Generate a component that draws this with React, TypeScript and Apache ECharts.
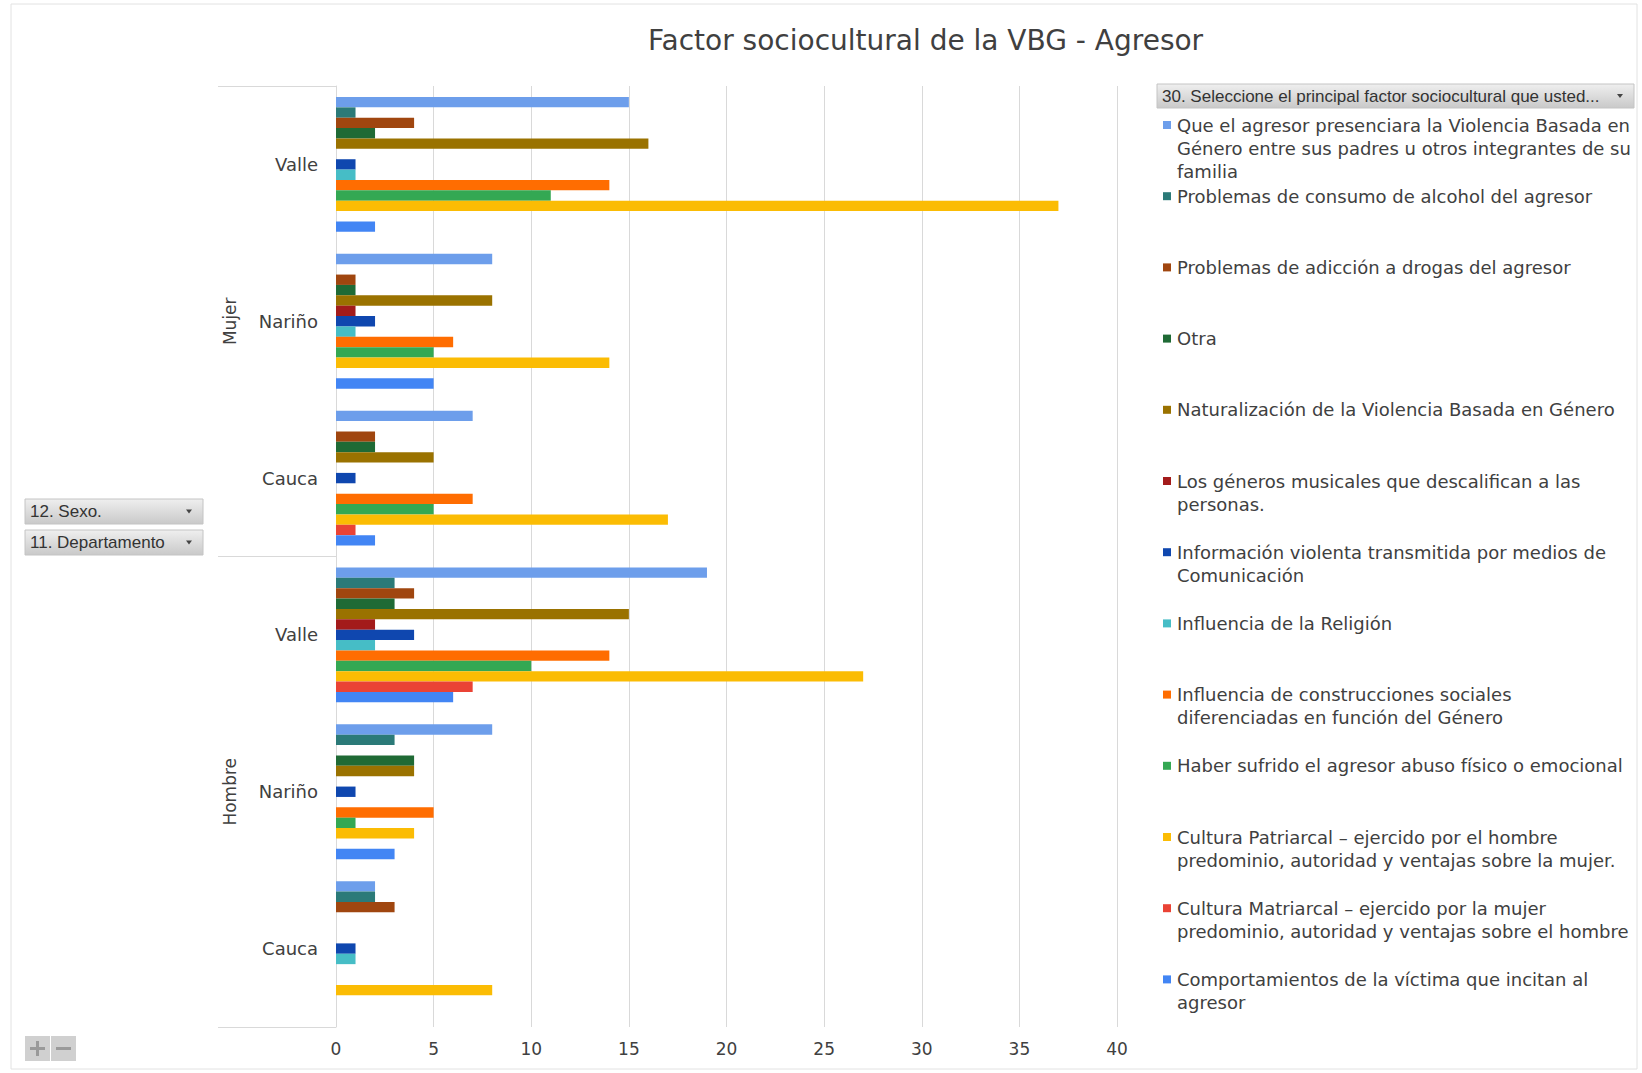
import React, { useEffect, useRef } from 'react';
import * as echarts from 'echarts';

// ---------- DATA ----------
const sexes = ['Mujer', 'Hombre'];
const departments = ['Valle', 'Nariño', 'Cauca'];

const seriesNames = [
  'Que el agresor presenciara la Violencia Basada en Género entre sus padres u otros integrantes de su familia',
  'Problemas de consumo de alcohol del agresor',
  'Problemas de adicción a drogas del agresor',
  'Otra',
  'Naturalización de la Violencia Basada en Género',
  'Los géneros musicales que descalifican a las personas.',
  'Información violenta transmitida por medios de Comunicación',
  'Influencia de la Religión',
  'Influencia de construcciones sociales diferenciadas en función del Género',
  'Haber sufrido el agresor abuso físico o emocional',
  'Cultura Patriarcal – ejercido por el hombre predominio, autoridad y ventajas sobre la mujer.',
  'Cultura Matriarcal – ejercido por la mujer predominio, autoridad y ventajas sobre el hombre',
  'Comportamientos de la víctima que incitan al agresor',
];

const legendLabels = [
  'Que el agresor presenciara la Violencia Basada en\nGénero entre sus padres u otros integrantes de su\nfamilia',
  'Problemas de consumo de alcohol del agresor',
  'Problemas de adicción a drogas del agresor',
  'Otra',
  'Naturalización de la Violencia Basada en Género',
  'Los géneros musicales que descalifican a las\npersonas.',
  'Información violenta transmitida por medios de\nComunicación',
  'Influencia de la Religión',
  'Influencia de construcciones sociales\ndiferenciadas en función del Género',
  'Haber sufrido el agresor abuso físico o emocional',
  'Cultura Patriarcal – ejercido por el hombre\npredominio, autoridad y ventajas sobre la mujer.',
  'Cultura Matriarcal – ejercido por la mujer\npredominio, autoridad y ventajas sobre el hombre',
  'Comportamientos de la víctima que incitan al\nagresor',
];

const seriesColors = [
  '#6d9eeb', '#2b7a78', '#a0460f', '#1f6a35', '#9a7200', '#a31b1b', '#0f47af',
  '#46bdc6', '#ff6d01', '#34a853', '#fbbc04', '#ea4335', '#4285f4',
];

// order: Mujer-Valle, Mujer-Nariño, Mujer-Cauca, Hombre-Valle, Hombre-Nariño, Hombre-Cauca
const valPresenciar = [15, 8, 7, 19, 8, 2];
const valAlcohol = [1, 0, 0, 3, 3, 2];
const valDrogas = [4, 1, 2, 4, 0, 3];
const valOtra = [2, 1, 2, 3, 4, 0];
const valNaturalizacion = [16, 8, 5, 15, 4, 0];
const valMusicales = [0, 1, 0, 2, 0, 0];
const valInformacion = [1, 2, 1, 4, 1, 1];
const valReligion = [1, 1, 0, 2, 0, 1];
const valConstrucciones = [14, 6, 7, 14, 5, 0];
const valAbuso = [11, 5, 5, 10, 1, 0];
const valPatriarcal = [37, 14, 17, 27, 4, 8];
const valMatriarcal = [0, 0, 1, 7, 0, 0];
const valComportamientos = [2, 5, 2, 6, 3, 0];

const seriesValues = [
  valPresenciar, valAlcohol, valDrogas, valOtra, valNaturalizacion, valMusicales,
  valInformacion, valReligion, valConstrucciones, valAbuso, valPatriarcal,
  valMatriarcal, valComportamientos,
];

const xMin = 0;
const xMax = 40;
const xInterval = 5;

const chartTitle = 'Factor sociocultural de la VBG - Agresor';
const legendHeader = '30. Seleccione el principal factor sociocultural que usted...';
const fieldButtons = ['12. Sexo.', '11. Departamento'];

// ---------- CHART ----------
const FONT = '"DejaVu Sans", sans-serif';
const BTN_FONT = '"Liberation Sans", Arial, sans-serif';
const TXT = '#404040';
const GRIDC = '#d9d9d9';

function buttonGroup(x: number, y: number, w: number, h: number, label: string, fontSize: number) {
  return {
    type: 'group',
    children: [
      {
        type: 'rect',
        shape: { x, y, width: w, height: h },
        style: {
          fill: new echarts.graphic.LinearGradient(0, 0, 0, 1, [
            { offset: 0, color: '#efefef' },
            { offset: 1, color: '#c9c9c9' },
          ]),
          stroke: '#c4c4c4',
          lineWidth: 1,
        },
      },
      {
        type: 'text',
        x: x + 5,
        y: y + h / 2,
        style: {
          text: label,
          fill: '#333333',
          font: `${fontSize}px ${BTN_FONT}`,
          verticalAlign: 'middle',
          align: 'left',
        },
      },
      {
        type: 'polygon',
        shape: { points: [[x + w - 17, y + h / 2 - 2], [x + w - 11, y + h / 2 - 2], [x + w - 14, y + h / 2 + 2]] },
        style: { fill: '#444444' },
      },
    ],
  };
}

export default function App() {
  const ref = useRef<HTMLDivElement>(null);

  useEffect(() => {
    if (!ref.current) return;
    const chart = echarts.init(ref.current, undefined, { renderer: 'svg' });

    const categories = sexes.flatMap((s) => departments.map((d) => `${s}|${d}`));

    const legendStartY = 125;
    const legendStep = 71.2;
    const lineH = 23;
    const legends = seriesNames.map((name, i) => {
      const label = legendLabels[i];
      const n = label.split('\n').length;
      return {
        left: 1163,
        top: legendStartY + i * legendStep - ((2 * n - 1) * lineH) / 2,
        orient: 'vertical',
        padding: 0,
        itemWidth: 8,
        itemHeight: 8,
        itemGap: 0,
        icon: 'rect',
        selectedMode: false,
        data: [name],
        formatter: () => '\n'.repeat(n - 1) + label,
        textStyle: { fontFamily: FONT, fontSize: 18, lineHeight: lineH, color: TXT, padding: [0, 0, 0, 1] },
      };
    });

    const option: any = {
      animation: false,
      backgroundColor: '#ffffff',
      title: {
        text: chartTitle,
        left: 643,
        top: 18,
        textStyle: { fontFamily: FONT, fontSize: 28, fontWeight: 'normal', color: TXT, lineHeight: 34 },
      },
      legend: legends,
      grid: { left: 336, right: 525, top: 86, bottom: 46, containLabel: false },
      xAxis: {
        type: 'value',
        min: xMin,
        max: xMax,
        interval: xInterval,
        axisLine: { show: false },
        axisTick: { show: false },
        splitLine: { show: true, lineStyle: { color: GRIDC, width: 1 } },
        axisLabel: { fontFamily: FONT, fontSize: 17, color: TXT, margin: 13 },
      },
      yAxis: [
        {
          type: 'category',
          data: categories,
          inverse: true,
          axisLine: { show: true, lineStyle: { color: GRIDC, width: 1 } },
          axisTick: { show: false },
          axisLabel: {
            formatter: (v: string) => v.split('|')[1],
            fontFamily: FONT,
            fontSize: 18,
            color: TXT,
            margin: 18,
          },
        },
        {
          type: 'category',
          data: sexes,
          inverse: true,
          position: 'left',
          offset: 0,
          axisLine: { show: false },
          axisTick: { show: true, length: 118, lineStyle: { color: GRIDC, width: 1 } },
          axisLabel: {
            rotate: 90,
            fontFamily: FONT,
            fontSize: 17,
            color: TXT,
            margin: 98,
          },
        },
      ],
      series: seriesNames.map((name, i) => ({
        type: 'bar',
        name,
        yAxisIndex: 0,
        data: seriesValues[i],
        barGap: '0%',
        barCategoryGap: '14%',
        itemStyle: { color: seriesColors[i] },
      })),
      graphic: [
        {
          type: 'rect',
          shape: { x: 11, y: 4, width: 1626, height: 1065 },
          style: { fill: 'none', stroke: '#e2e2e2', lineWidth: 1 },
          silent: true,
          z: -10,
        },
        buttonGroup(1157, 84, 477, 24, legendHeader, 17),
        buttonGroup(25, 499, 178, 25, fieldButtons[0], 17),
        buttonGroup(25, 530, 178, 25, fieldButtons[1], 17),
        {
          type: 'group',
          children: [
            { type: 'rect', shape: { x: 25, y: 1036, width: 25, height: 25 }, style: { fill: '#d0d0d0' } },
            { type: 'rect', shape: { x: 51, y: 1036, width: 25, height: 25 }, style: { fill: '#d0d0d0' } },
            { type: 'rect', shape: { x: 30, y: 1047, width: 15, height: 3 }, style: { fill: '#9a9a9a' } },
            { type: 'rect', shape: { x: 36, y: 1041, width: 3, height: 15 }, style: { fill: '#9a9a9a' } },
            { type: 'rect', shape: { x: 56, y: 1047, width: 15, height: 3 }, style: { fill: '#9a9a9a' } },
          ],
        },
      ],
    };

    chart.setOption(option);
    return () => chart.dispose();
  }, []);

  return (
    <div
      ref={ref}
      style={{ position: 'fixed', left: 0, top: 0, width: 1642, height: 1073, background: '#fff' }}
    />
  );
}
